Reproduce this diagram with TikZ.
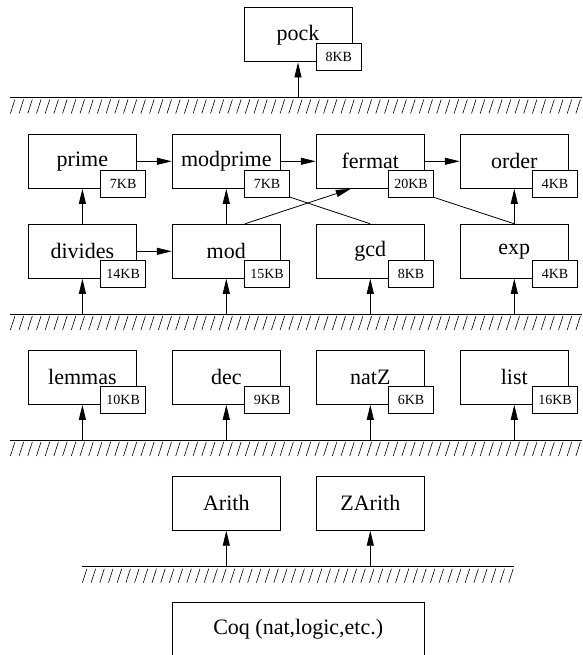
\documentclass[tikz,border=0pt]{standalone}
\usepackage{fontspec}
\setmainfont{Liberation Serif}
\usetikzlibrary{arrows.meta}

% hatched ground line: x from #1 to #2 at height #3
\newcommand{\groundline}[3]{%
  \draw[line width=0.9pt] (#1,#3) -- (#2,#3);
  \pgfmathtruncatemacro{\nticks}{(#2-#1-4.5)/8.7}
  \foreach \i in {0,...,\nticks}
    \draw[line width=0.6pt] (#1+8.7*\i,#3+16) -- ++(4.5,-14);
}

\begin{document}
\begin{tikzpicture}[x=1pt,y=-1pt,
  modbox/.style={draw,line width=1pt,minimum width=108pt,minimum height=54pt,
    inner sep=0pt,font=\fontsize{22}{26}\selectfont},
  kbbox/.style={draw,fill=white,line width=1pt,minimum width=45pt,minimum height=27pt,
    inner sep=0pt,font=\fontsize{14}{16}\selectfont},
  dep/.style={-{Triangle[length=15pt,width=7pt]},line width=0.8pt}]

 \clip (0,0) rectangle (582,655);

 % ground lines between the layers
 \coordinate (g1) at (0,97.5);
 \coordinate (g2) at (0,314);
 \coordinate (g3) at (0,440);
 \coordinate (g4) at (0,566.7);
 \groundline{10.4}{590}{97.5}
 \groundline{10.4}{590}{314}
 \groundline{10.4}{590}{440}
 \groundline{82.4}{514.1}{566.7}

 % top
 \node[modbox] (pock) at (298,35) {pock};

 % theory layer
 \node[modbox] (prime)    at (82.4,161.3)  {prime};
 \node[modbox] (modprime) at (226.3,161.3) {modprime};
 \node[modbox] (fermat)   at (370.3,161.3) {fermat};
 \node[modbox] (order)    at (514.3,161.3) {order};
 \node[modbox] (divides)  at (82.4,251.3)  {divides};
 \node[modbox] (mod)      at (226.3,251.3) {mod};
 \node[modbox] (gcd)      at (370.3,251.3) {gcd};
 \node[modbox] (exp)      at (514.3,251.3) {exp};

 % library layer
 \node[modbox] (lemmas) at (82.4,377.3)  {lemmas};
 \node[modbox] (dec)    at (226.3,377.3) {dec};
 \node[modbox] (natZ)   at (370.3,377.3) {natZ};
 \node[modbox] (list)   at (514.3,377.3) {list};

 % standard library
 \node[modbox] (arith)  at (226.3,503.2) {Arith};
 \node[modbox] (zarith) at (370.3,503.2) {ZArith};
 \node[modbox,minimum width=252pt] (coq) at (298.2,629.5) {Coq (nat,logic,etc.)};

 % dependencies
 \draw[dep] (pock.south |- g1) -- (pock.south);
 \draw[dep] (prime) -- (modprime);
 \draw[dep] (modprime) -- (fermat);
 \draw[dep] (fermat) -- (order);
 \draw[dep] (divides) -- (mod);
 \draw[dep] (divides) -- (prime);
 \draw[dep] (mod) -- (modprime);
 \draw[dep] (exp) -- (order);
 \draw[dep] ([xshift=18.7pt]mod.north) -- ([xshift=-19.5pt]fermat.south);
 \draw[dep] (gcd.north) -- ([xshift=38.5pt]modprime.south); % tip under the size box
 \draw[dep] (exp.north) -- ([xshift=37.5pt]fermat.south);  % tip under the size box
 \foreach \m in {divides,mod,gcd,exp}
   \draw[dep] (\m.south |- g2) -- (\m.south);
 \foreach \m in {lemmas,dec,natZ,list}
   \draw[dep] (\m.south |- g3) -- (\m.south);
 \foreach \m in {arith,zarith}
   \draw[dep] (\m.south |- g4) -- (\m.south);

 % file sizes
 \foreach \m/\kb in {pock/8KB,prime/7KB,modprime/7KB,fermat/20KB,order/4KB,
     divides/14KB,mod/15KB,gcd/8KB,exp/4KB,lemmas/10KB,dec/9KB,natZ/6KB,list/16KB}
   \node[kbbox] (\m kb) at ([xshift=-13.7pt,yshift=5.1pt]\m.south east) {\kb};

\end{tikzpicture}
\end{document}
